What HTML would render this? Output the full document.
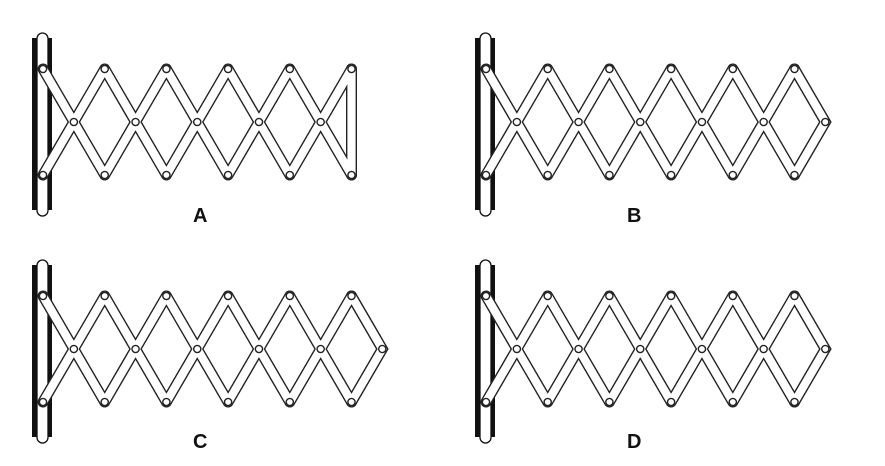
<!DOCTYPE html>
<html><head><meta charset="utf-8"><style>
html,body{margin:0;padding:0;background:#fff;width:885px;height:466px;overflow:hidden}
text{font-family:"Liberation Sans",sans-serif;font-size:20px;font-weight:bold;fill:#111}
</style></head><body>
<svg width="885" height="466" viewBox="0 0 885 466" xmlns="http://www.w3.org/2000/svg">
<defs>
<g id="bars">
<path d="M0,0L61.7,106M0,106L61.7,0M61.7,0L123.4,106M61.7,106L123.4,0M123.4,0L185.1,106M123.4,106L185.1,0M185.1,0L246.8,106M185.1,106L246.8,0M246.8,0L308.5,106M246.8,106L308.5,0"/>
</g>
<g id="pins" fill="#fff" stroke="#222" stroke-width="1.4">
<circle cx="0" cy="0" r="3.6"/><circle cx="61.7" cy="0" r="3.6"/><circle cx="123.4" cy="0" r="3.6"/><circle cx="185.1" cy="0" r="3.6"/><circle cx="246.8" cy="0" r="3.6"/><circle cx="308.5" cy="0" r="3.6"/>
<circle cx="0" cy="106" r="3.6"/><circle cx="61.7" cy="106" r="3.6"/><circle cx="123.4" cy="106" r="3.6"/><circle cx="185.1" cy="106" r="3.6"/><circle cx="246.8" cy="106" r="3.6"/><circle cx="308.5" cy="106" r="3.6"/>
<circle cx="30.85" cy="53" r="3.6"/><circle cx="92.55" cy="53" r="3.6"/><circle cx="154.25" cy="53" r="3.6"/><circle cx="215.95" cy="53" r="3.6"/><circle cx="277.65" cy="53" r="3.6"/>
</g>
<g id="wall">
<rect x="-11" y="-31" width="20" height="172" fill="#111"/>
<rect x="-6" y="-36" width="11" height="183" rx="5.5" fill="#fff" stroke="#111" stroke-width="1.3"/>
</g>
<g id="diamond">
<g stroke-linecap="round" fill="none">
<g stroke="#222" stroke-width="11"><use href="#bars"/><path d="M308.5,0L339.3,53L308.5,106"/></g>
<g stroke="#fff" stroke-width="8.2"><use href="#bars"/><path d="M308.5,0L339.3,53L308.5,106"/></g>
</g>
<use href="#pins"/>
<circle cx="339.3" cy="53" r="3.6" fill="#fff" stroke="#222" stroke-width="1.4"/>
</g>
<g id="closed">
<g stroke-linecap="round" fill="none">
<g stroke="#222" stroke-width="11"><use href="#bars"/><path d="M308.5,0L308.5,106"/></g>
<g stroke="#fff" stroke-width="8.2"><use href="#bars"/><path d="M308.5,0L308.5,106"/></g>
</g>
<use href="#pins"/>
</g>
</defs>
<g transform="translate(43,69)"><use href="#wall"/><use href="#closed"/></g>
<g transform="translate(486,69)"><use href="#wall"/><use href="#diamond"/></g>
<g transform="translate(43,296)"><use href="#wall"/><use href="#diamond"/></g>
<g transform="translate(486,296)"><use href="#wall"/><use href="#diamond"/></g>
<text x="193" y="222">A</text>
<text x="627" y="222">B</text>
<text x="193" y="448">C</text>
<text x="627" y="448">D</text>
</svg>
</body></html>
